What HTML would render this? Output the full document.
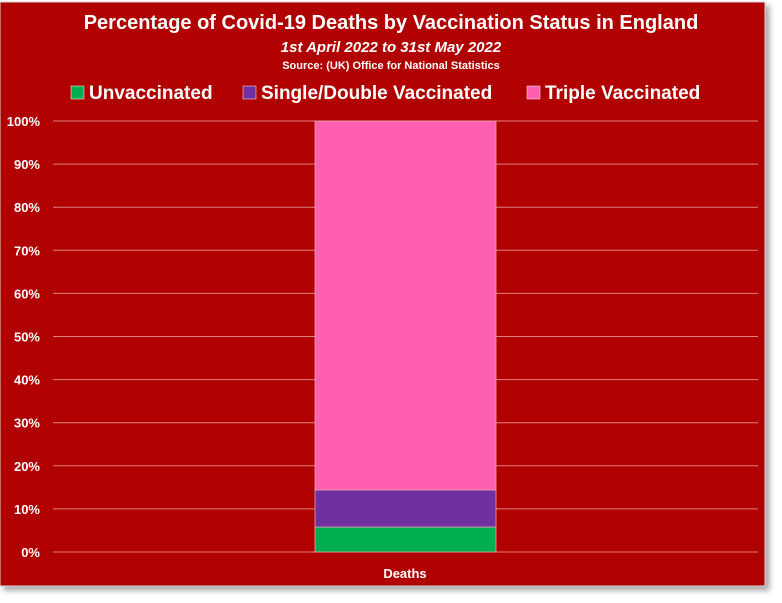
<!DOCTYPE html>
<html><head><meta charset="utf-8"><style>
body{margin:0;background:#fff;width:782px;height:603px;overflow:hidden}
svg{display:block;font-family:"Liberation Sans",sans-serif}
</style></head><body>
<svg id="c" width="782" height="603">
<defs><filter id="sh" x="-5%" y="-5%" width="110%" height="110%"><feDropShadow dx="4" dy="4" stdDeviation="3" flood-color="#000" flood-opacity="0.35"/></filter></defs>
<rect x="0" y="2" width="765" height="584" fill="#B00000" stroke="#d9d9d9" stroke-width="1" filter="url(#sh)"/>
<text x="391" y="29" text-anchor="middle" fill="#fff" font-weight="bold" font-size="20">Percentage of Covid-19 Deaths by Vaccination Status in England</text>
<text x="391" y="52" text-anchor="middle" fill="#fff" font-weight="bold" font-style="italic" font-size="15">1st April 2022 to 31st May 2022</text>
<text x="391" y="69" text-anchor="middle" fill="#fff" font-weight="bold" font-size="11">Source: (UK) Office for National Statistics</text>
<g id="legend"></g>
<g id="grid"></g>
<g id="bars"></g>
<g id="yaxis"></g>
<text x="405" y="578" text-anchor="middle" fill="#fff" font-weight="bold" font-size="13">Deaths</text>
</svg>
<script>
const categories=["Deaths"];
const seriesNames=["Unvaccinated","Single/Double Vaccinated","Triple Vaccinated"];
const unvaccinated=[5.8];
const singleDouble=[8.6];
const triple=[85.6];
const yTicks=[0,10,20,30,40,50,60,70,80,90,100];
const colors=["#00B050","#7030A0","#FF5FAF"];
const NS="http://www.w3.org/2000/svg";
const x0=53,x1=758,yTop=121,yBot=552;
function y(v){return yBot-(v/100)*(yBot-yTop);}
function mk(t,a,p){const e=document.createElementNS(NS,t);for(const k in a)e.setAttribute(k,a[k]);p.appendChild(e);return e;}
const grid=document.getElementById('grid'),ya=document.getElementById('yaxis');
yTicks.forEach(t=>{
 const l=mk('line',{x1:x0,x2:x1,y1:y(t),y2:y(t),stroke:'#e08080','stroke-width':1},grid);
 
 
 const tx=mk('text',{x:40,y:y(t)+5,'text-anchor':'end',fill:'#fff','font-weight':'bold','font-size':13},ya);
 tx.textContent=t+'%';
 
 
});
const bars=document.getElementById('bars');
const bw=181,slot=(x1-x0)/categories.length;
const series=[unvaccinated,singleDouble,triple];
categories.forEach((c,i)=>{
 const bx=x0+slot*i+slot/2-bw/2;let cum=0;
 series.forEach((s,j)=>{
  const v=s[i];
  const r=mk('rect',{x:bx,y:y(cum+v),width:bw,height:y(cum)-y(cum+v),fill:colors[j],stroke:'#e8a0b0','stroke-width':0.8},bars);
  
  
  cum+=v;
 });
});
const lg=document.getElementById('legend');
const lx=[71,243,527];
seriesNames.forEach((n,i)=>{
 const r=mk('rect',{x:lx[i],y:86,width:13,height:13,fill:colors[i],stroke:'#fff','stroke-width':0.5},lg);
 
 
 const t=mk('text',{x:lx[i]+18,y:99,fill:'#fff','font-weight':'bold','font-size':19},lg);
 t.textContent=n;
 
 
});
</script>
</body></html>
